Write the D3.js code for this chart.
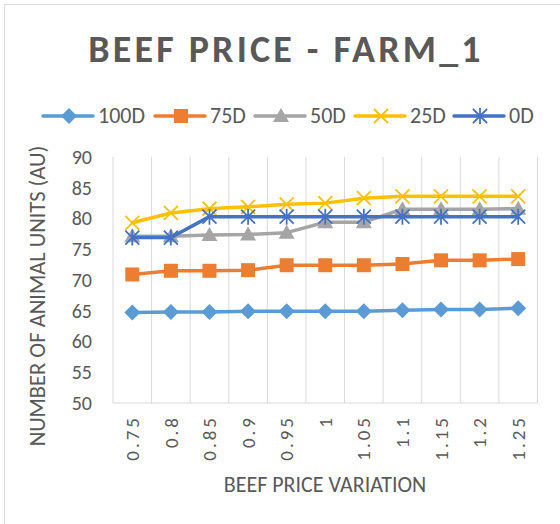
<!DOCTYPE html>
<html>
<head>
<meta charset="utf-8">
<script src="https://cdn.jsdelivr.net/npm/d3@7"></script>
<style>
  body { margin: 0; background: #fff; }
  text { font-family: Calibri, Carlito, "Open Sans", sans-serif; fill: #595959; }
</style>
</head>
<body>
<svg id="chart" width="560" height="524"></svg>
<script>
const categories = ['0.75', '0.8', '0.85', '0.9', '0.95', '1', '1.05', '1.1', '1.15', '1.2', '1.25']
const yTicks = [50, 55, 60, 65, 70, 75, 80, 85, 90]
const seriesNames = ['100D', '75D', '50D', '25D', '0D']
const d100 = [64.7, 64.8, 64.8, 64.9, 64.9, 64.9, 64.9, 65.1, 65.2, 65.2, 65.4]
const d75 = [70.9, 71.5, 71.5, 71.6, 72.4, 72.4, 72.4, 72.6, 73.2, 73.2, 73.4]
const d50 = [77.1, 77.1, 77.3, 77.4, 77.7, 79.4, 79.4, 81.5, 81.5, 81.5, 81.6]
const d25 = [79.3, 80.9, 81.6, 81.9, 82.3, 82.5, 83.3, 83.6, 83.6, 83.6, 83.6]
const d0 = [76.9, 76.9, 80.3, 80.3, 80.3, 80.3, 80.3, 80.3, 80.3, 80.3, 80.3]

const colors = ['#5b9bd5', '#ed7d31', '#a5a5a5', '#ffc000', '#4472c4']
const shapes = ['diamond', 'square', 'triangle', 'x', 'star']
const series = [d100, d75, d50, d25, d0].map((v, i) => ({ name: seriesNames[i], values: v, color: colors[i], shape: shapes[i] }))

const svg = d3.select('#chart')
const font = 'Calibri, Carlito, "Open Sans", sans-serif'

// chart frame (only top/left visible in the crop)
svg.append('rect')
  .attr('x', 4.5).attr('y', 4.5)
  .attr('width', 600).attr('height', 600)
  .attr('fill', 'none').attr('stroke', '#d9d9d9')

const x = d3.scaleBand().domain(categories).range([113, 537.5])
const y = d3.scaleLinear().domain([50, 90]).range([403, 157])

// title
svg.append('text')
  .attr('x', 286).attr('y', 62)
  .attr('text-anchor', 'middle')
  .attr('font-size', 38).attr('font-weight', 'bold')
  .attr('letter-spacing', 3.2)
  .text('BEEF PRICE - FARM_1')

// vertical gridlines at band edges
const edges = categories.map(c => x(c)).concat([x.range()[1]])
svg.append('g').selectAll('line').data(edges).join('line')
  .attr('x1', d => d).attr('x2', d => d)
  .attr('y1', y(90)).attr('y2', y(50))
  .attr('stroke', '#d9d9d9').attr('stroke-width', 1)

// bottom axis line
svg.append('line')
  .attr('x1', x.range()[0]).attr('x2', x.range()[1])
  .attr('y1', y(50)).attr('y2', y(50))
  .attr('stroke', '#d9d9d9')

// y axis labels
const yAxis = d3.axisLeft(y).tickValues(yTicks).tickSize(0).tickPadding(0)
const gy = svg.append('g').attr('transform', 'translate(92,0)').call(yAxis)
gy.select('.domain').remove()
gy.selectAll('text').attr('font-size', 20).attr('fill', '#595959')
  .style('font-family', font)

// x axis labels (rotated)
const xAxis = d3.axisBottom(x).tickSize(0).tickPadding(0)
const gx = svg.append('g').attr('transform', 'translate(0,' + y(50) + ')').call(xAxis)
gx.select('.domain').remove()
gx.selectAll('text')
  .attr('transform', 'rotate(-90)')
  .attr('x', -12).attr('y', 0).attr('dy', '0.35em')
  .attr('text-anchor', 'end')
  .attr('font-size', 19).attr('letter-spacing', 3).attr('fill', '#595959')
  .style('font-family', font)

// axis titles
svg.append('text')
  .attr('x', 325).attr('y', 492)
  .attr('text-anchor', 'middle').attr('font-size', 22)
  .text('BEEF PRICE VARIATION')

svg.append('text')
  .attr('transform', 'translate(45,296) rotate(-90)')
  .attr('text-anchor', 'middle').attr('font-size', 22.5)
  .text('NUMBER OF ANIMAL UNITS (AU)')

function marker (g, shape, color, cx, cy) {
  if (shape === 'diamond') {
    g.append('path').attr('d', `M${cx},${cy - 8}L${cx + 8},${cy}L${cx},${cy + 8}L${cx - 8},${cy}Z`).attr('fill', color)
  } else if (shape === 'square') {
    g.append('rect').attr('x', cx - 7).attr('y', cy - 7).attr('width', 14).attr('height', 14).attr('fill', color)
  } else if (shape === 'triangle') {
    g.append('path').attr('d', `M${cx},${cy - 8}L${cx + 8},${cy + 6}L${cx - 8},${cy + 6}Z`).attr('fill', color)
  } else if (shape === 'x') {
    g.append('path').attr('d', `M${cx - 7},${cy - 7}L${cx + 7},${cy + 7}M${cx + 7},${cy - 7}L${cx - 7},${cy + 7}`)
      .attr('stroke', color).attr('stroke-width', 1.8)
  } else {
    g.append('path').attr('d', `M${cx - 7},${cy - 7}L${cx + 7},${cy + 7}M${cx + 7},${cy - 7}L${cx - 7},${cy + 7}M${cx},${cy - 8}L${cx},${cy + 8}`)
      .attr('stroke', color).attr('stroke-width', 1.8)
  }
}

const line = d3.line()
  .x((d, i) => x(categories[i]) + x.bandwidth() / 2)
  .y(d => y(d))

series.forEach(s => {
  const g = svg.append('g')
  g.append('path').datum(s.values)
    .attr('d', line)
    .attr('fill', 'none').attr('stroke', s.color)
    .attr('stroke-width', 3.5).attr('stroke-linejoin', 'round')
  s.values.forEach((v, i) => marker(g, s.shape, s.color, x(categories[i]) + x.bandwidth() / 2, y(v)))
})

// legend
const legendX = [43, 155, 255, 355, 454]
series.forEach((s, i) => {
  const g = svg.append('g')
  const lx = legendX[i]
  g.append('line').attr('x1', lx).attr('x2', lx + 50).attr('y1', 116).attr('y2', 116)
    .attr('stroke', s.color).attr('stroke-width', 3.5).attr('stroke-linecap', 'round')
  marker(g, s.shape, s.color, lx + 26, 116)
  g.append('text').attr('x', lx + 55).attr('y', 123).attr('font-size', 22).text(s.name)
})
</script>
</body>
</html>
